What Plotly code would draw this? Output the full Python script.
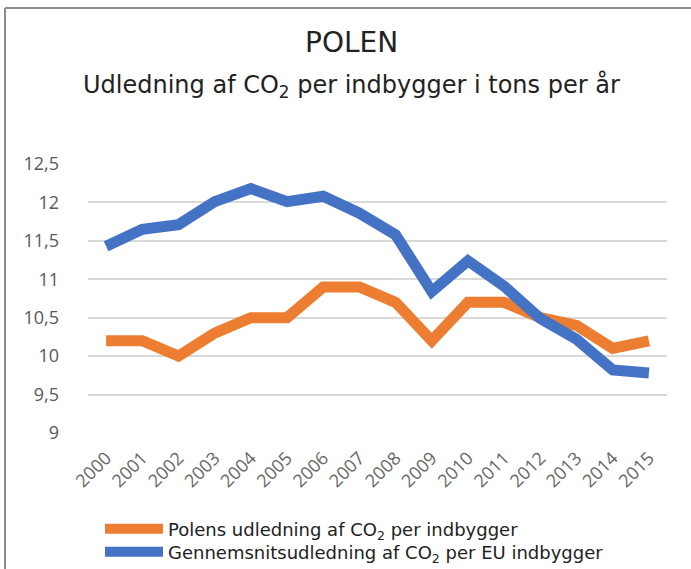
import plotly.graph_objects as go

years = [str(y) for y in range(2000, 2016)]
polen = [10.2, 10.2, 10.0, 10.3, 10.5, 10.5, 10.9, 10.9, 10.7, 10.2, 10.7, 10.7, 10.5, 10.4, 10.1, 10.2]
eu = [11.43, 11.65, 11.71, 12.01, 12.18, 12.01, 12.08, 11.86, 11.58, 10.84, 11.24, 10.91, 10.49, 10.22, 9.82, 9.78]
y_ticks = [9, 9.5, 10, 10.5, 11, 11.5, 12, 12.5]
y_labels = ["9", "9,5", "10", "10,5", "11", "11,5", "12", "12,5"]

fig = go.Figure()
fig.add_trace(go.Scatter(x=years, y=polen, mode="lines", legend="legend",
                         name="Polens udledning af CO<sub>2</sub> per indbygger",
                         line=dict(color="#ED7D31", width=11)))
fig.add_trace(go.Scatter(x=years, y=eu, mode="lines", legend="legend2",
                         name="Gennemsnitsudledning af CO<sub>2</sub> per EU indbygger",
                         line=dict(color="#4472C4", width=11)))

leg_common = dict(xanchor="left", yanchor="middle", font=dict(size=18, color="#222222"),
                  itemwidth=58, bgcolor="rgba(0,0,0,0)")

fig.update_layout(
    width=691, height=569,
    margin=dict(l=88, r=24, t=164, b=136, autoexpand=False),
    paper_bgcolor="white", plot_bgcolor="white",
    font=dict(family="DejaVu Sans", color="#222222"),
    showlegend=True,
    legend=dict(x=(100 - 88) / 579, y=(433 - 529) / 269, **leg_common),
    legend2=dict(x=(100 - 88) / 579, y=(433 - 552) / 269, **leg_common),
    xaxis=dict(type="category", range=[-0.5, 15.5], showgrid=False, zeroline=False,
               showline=False, automargin=False, ticklabelstandoff=10,
               tickangle=-45, tickfont=dict(family="Open Sans", size=18, color="#666666"),
               ticks=""),
    yaxis=dict(range=[9, 12.5], tickvals=y_ticks, ticktext=y_labels, automargin=False,
               showgrid=True, gridcolor="#D9D9D9", gridwidth=2, zeroline=False,
               showline=False, ticks="", ticklabelstandoff=28,
               tickfont=dict(family="Open Sans", size=18, color="#595959")),
    annotations=[
        dict(text="POLEN", xref="paper", yref="paper", x=0.455, y=1.0, xanchor="center",
             yanchor="middle", yshift=(433 - 42) - 269, showarrow=False,
             font=dict(size=28, color="#222222")),
        dict(text="Udledning af CO<sub>2</sub> per indbygger i tons per år", xref="paper", yref="paper",
             x=0.455, y=1.0, xanchor="center", yanchor="middle", yshift=(433 - 86) - 269,
             showarrow=False, font=dict(size=24, color="#222222")),
    ],
    shapes=[
        dict(type="line", xref="paper", yref="paper", x0=(5 - 88) / 579, x1=(5 - 88) / 579,
             y0=(433 - 8) / 269, y1=(433 - 580) / 269, line=dict(color="#8C8C8C", width=2)),
        dict(type="line", xref="paper", yref="paper", x0=(5 - 88) / 579, x1=(700 - 88) / 579,
             y0=(433 - 8) / 269, y1=(433 - 8) / 269, line=dict(color="#8C8C8C", width=2)),
    ],
)

fig.write_html("out.html", config={"displayModeBar": False},
               post_script="document.body.style.margin='0';document.body.style.overflow='hidden';")
